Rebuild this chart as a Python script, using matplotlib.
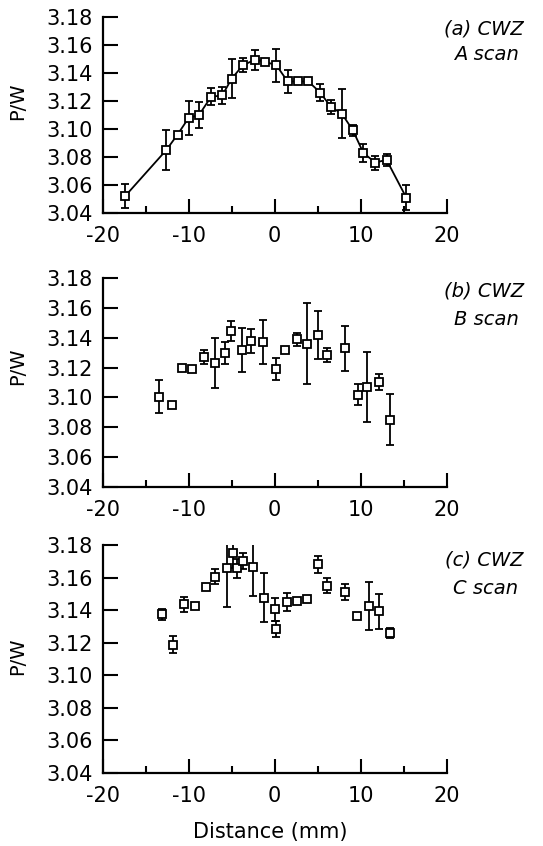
import matplotlib
matplotlib.use("Agg")
import matplotlib.pyplot as plt
from matplotlib.ticker import MultipleLocator

plt.rcParams['axes.unicode_minus'] = False

# panel (a) A scan
x_a = [-17.4, -12.6, -11.3, -10.0, -8.8, -7.4, -6.1, -5.0, -3.7, -2.3, -1.1, 0.2,
       1.5, 2.7, 3.9, 5.3, 6.5, 7.8, 9.1, 10.3, 11.7, 13.0, 15.3]
y_a = [3.052, 3.085, 3.096, 3.108, 3.110, 3.123, 3.124, 3.136, 3.1455, 3.1495, 3.148, 3.1455,
       3.134, 3.134, 3.134, 3.126, 3.116, 3.111, 3.099, 3.083, 3.076, 3.078, 3.051]
e_a = [0.0085, 0.014, 0, 0.012, 0.009, 0.006, 0.006, 0.014, 0.005, 0.007, 0, 0.012,
       0.008, 0, 0, 0.006, 0.005, 0.0175, 0.004, 0.0065, 0.005, 0.0045, 0.0087]

# panel (b) B scan
x_b = [-13.4, -12.0, -10.8, -9.6, -8.2, -6.9, -5.8, -5.1, -3.8, -2.7, -1.4, 0.1,
       1.2, 2.6, 3.8, 5.0, 6.1, 8.2, 9.65, 10.7, 12.1, 13.4]
y_b = [3.1005, 3.0947, 3.1194, 3.119, 3.127, 3.123, 3.1297, 3.1445, 3.1315, 3.138, 3.137, 3.119,
       3.1315, 3.139, 3.136, 3.1418, 3.1286, 3.133, 3.1019, 3.1068, 3.1106, 3.085]
e_b = [0.011, 0, 0, 0, 0.0047, 0.0165, 0.0075, 0.0066, 0.0148, 0.008, 0.0146, 0.0075,
       0, 0.0044, 0.027, 0.0163, 0.0046, 0.0151, 0.0068, 0.0234, 0.0054, 0.017]

# panel (c) C scan
x_c = [-13.1, -11.8, -10.6, -9.3, -8.0, -6.9, -5.5, -4.9, -4.4, -3.7, -2.5, -1.2,
       0.0, 0.1, 1.4, 2.6, 3.8, 5.0, 6.1, 8.2, 9.6, 11.0, 12.1, 13.4]
y_c = [3.1374, 3.1189, 3.1436, 3.1423, 3.1543, 3.1605, 3.1656, 3.1749, 3.1656, 3.170, 3.1666, 3.1477,
       3.1405, 3.1284, 3.145, 3.1455, 3.147, 3.1683, 3.1551, 3.1512, 3.1362, 3.1426, 3.1393, 3.1259]
e_c = [0.0036, 0.0053, 0.0045, 0, 0, 0.0045, 0.0237, 0.009, 0.006, 0.005, 0.018, 0.015,
       0.0072, 0.005, 0.0057, 0, 0, 0.0052, 0.0044, 0.005, 0, 0.0146, 0.0106, 0.0029]

labels = [("(a) CWZ", "A scan"), ("(b) CWZ", "B scan"), ("(c) CWZ", "C scan")]

W, H = 543, 846
fig = plt.figure(figsize=(W / 100, H / 100), dpi=100)

# axes boxes in pixels: (top, bottom)
boxes = [(17, 213), (278, 487), (545, 773)]
left, right = 102.7, 446.7
text_y = [(29, 55), (291, 319), (560, 589)]
ylab_y = [0.57, 0.58, 0.51]

data = [(x_a, y_a, e_a, True), (x_b, y_b, e_b, False), (x_c, y_c, e_c, False)]

for i, ((xs, ys, es, joined), (top, bot)) in enumerate(zip(data, boxes)):
    ax = fig.add_axes([left / W, 1 - bot / H, (right - left) / W, (bot - top) / H])
    xe = [x for x, e in zip(xs, es) if e > 0]
    ye = [y for y, e in zip(ys, es) if e > 0]
    ee = [e for e in es if e > 0]
    ax.errorbar(xe, ye, yerr=ee, fmt='none', ecolor='black', elinewidth=1.3,
                capsize=3, capthick=1.3, zorder=2)
    if joined:
        ax.plot(xs, ys, '-', color='black', lw=1.3, zorder=3)
    ax.plot(xs, ys, 's', ms=5.5, mfc='white', mec='black', mew=1.3, zorder=4)

    ax.set_xlim(-20, 20)
    ax.set_ylim(3.04, 3.18)
    ax.spines['top'].set_visible(False)
    ax.spines['right'].set_visible(False)
    ax.spines['left'].set_linewidth(1.6)
    ax.spines['bottom'].set_linewidth(1.6)
    ax.xaxis.set_major_locator(MultipleLocator(10))
    ax.xaxis.set_minor_locator(MultipleLocator(5))
    ax.yaxis.set_major_locator(MultipleLocator(0.02))
    ax.yaxis.set_major_formatter(matplotlib.ticker.FormatStrFormatter('%.2f'))
    ax.tick_params(axis='y', direction='in', length=11, width=1.5, labelsize=15, pad=7)
    ax.tick_params(axis='x', which='major', direction='in', length=10, width=1.5,
                   labelsize=15, pad=9)
    ax.tick_params(axis='x', which='minor', direction='in', length=5, width=1.5)
    ax.set_ylabel("P/W", fontsize=14)
    ax.yaxis.set_label_coords(-0.22, ylab_y[i])

    t1, t2 = labels[i]
    fig.text(484 / W, 1 - text_y[i][0] / H, t1, ha='center', va='center',
             fontsize=14, style='italic')
    fig.text(486 / W, 1 - text_y[i][1] / H, t2, ha='center', va='center',
             fontsize=14, style='italic')

fig.text(270 / W, 1 - 832 / H, "Distance (mm)", ha='center', va='center',
         fontsize=15, weight='medium')

fig.savefig("out.png", dpi=100)
